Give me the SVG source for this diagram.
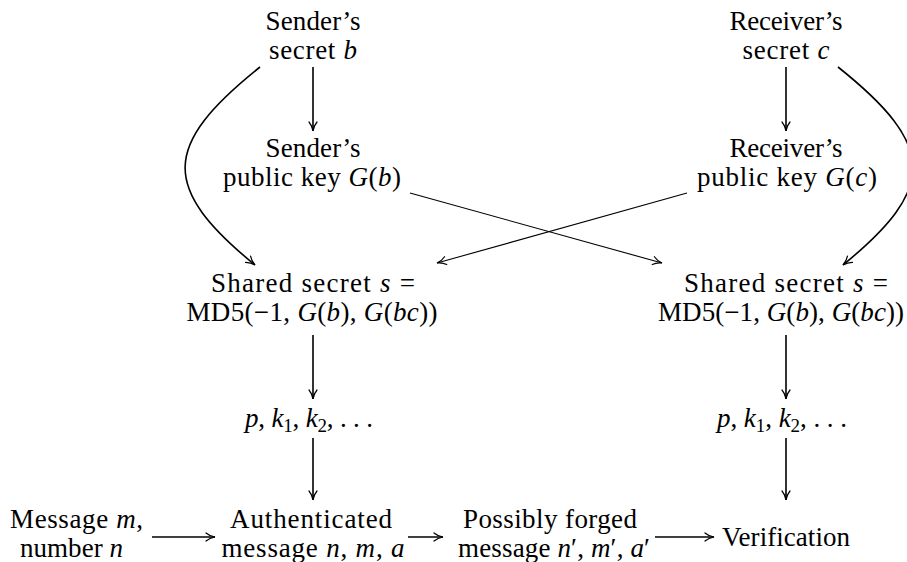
<svg xmlns="http://www.w3.org/2000/svg" width="907" height="562" viewBox="0 0 907 562">
<style>
  text { font-family: "Liberation Serif", "DejaVu Serif", serif; font-size: 27px; fill: #000; text-anchor: middle; }
  .i { font-style: italic; }
  .sub { font-size: 19px; }
  .edge { fill: none; stroke: #000; stroke-width: 1.6; marker-end: url(#to); }
  .thin { stroke-width: 1.1; }
</style>
<defs>
  <marker id="to" markerUnits="userSpaceOnUse" viewBox="-11 -6 12 12" markerWidth="12" markerHeight="12" refX="0" refY="0" orient="auto" overflow="visible">
    <path d="M-9,-4 C-6,-1.4 -2.5,-0.4 0,0 C-2.5,0.4 -6,1.4 -9,4" fill="none" stroke="#000" stroke-width="1.2" stroke-linecap="round"/>
  </marker>
</defs>
<rect width="907" height="562" fill="#fff"/>

<g id="connectors">
  <path class="edge" d="M313,67 V131"/>
  <path class="edge" d="M786,67 V131"/>
  <path class="edge" d="M260,67 C161,146 161,188 255,265"/>
  <path class="edge" d="M838,67 C937,146 937,188 843,265"/>
  <path class="edge thin" d="M410,193 L662,263"/>
  <path class="edge thin" d="M687,193 L437,263"/>
  <path class="edge" d="M313,335 V399"/>
  <path class="edge" d="M786,335 V399"/>
  <path class="edge" d="M313,438 V500"/>
  <path class="edge" d="M786,438 V500"/>
  <path class="edge" d="M152,537 H215"/>
  <path class="edge" d="M408,537 H443"/>
  <path class="edge" d="M655,537 H714"/>
</g>

<g id="sender-secret">
  <text x="313" y="30" textLength="95" lengthAdjust="spacing">Sender’s</text>
  <text x="313" y="59" textLength="88" lengthAdjust="spacing">secret <tspan class="i">b</tspan></text>
</g>
<g id="receiver-secret">
  <text x="786" y="30" textLength="113" lengthAdjust="spacing">Receiver’s</text>
  <text x="786" y="59" textLength="87" lengthAdjust="spacing">secret <tspan class="i">c</tspan></text>
</g>
<g id="sender-public">
  <text x="313" y="157" textLength="95" lengthAdjust="spacing">Sender’s</text>
  <text x="312" y="186" textLength="178" lengthAdjust="spacing">public key <tspan class="i">G</tspan>(<tspan class="i">b</tspan>)</text>
</g>
<g id="receiver-public">
  <text x="786" y="157" textLength="113" lengthAdjust="spacing">Receiver’s</text>
  <text x="787" y="186" textLength="180" lengthAdjust="spacing">public key <tspan class="i">G</tspan>(<tspan class="i">c</tspan>)</text>
</g>
<g id="shared-left">
  <text x="313" y="292" textLength="204" lengthAdjust="spacing">Shared secret <tspan class="i">s</tspan> =</text>
  <text x="312" y="321" textLength="251" lengthAdjust="spacing">MD5(−1, <tspan class="i">G</tspan>(<tspan class="i">b</tspan>), <tspan class="i">G</tspan>(<tspan class="i">bc</tspan>))</text>
</g>
<g id="shared-right">
  <text x="786" y="292" textLength="204" lengthAdjust="spacing">Shared secret <tspan class="i">s</tspan> =</text>
  <text x="781" y="321" textLength="246" lengthAdjust="spacing">MD5(−1, <tspan class="i">G</tspan>(<tspan class="i">b</tspan>), <tspan class="i">G</tspan>(<tspan class="i">bc</tspan>))</text>
</g>
<g id="keys-left">
  <text x="309" y="427" textLength="128" lengthAdjust="spacing"><tspan class="i">p</tspan>, <tspan class="i">k</tspan><tspan class="sub" dy="5">1</tspan><tspan dy="-5">, </tspan><tspan class="i">k</tspan><tspan class="sub" dy="5">2</tspan><tspan dy="-5">, . . .</tspan></text>
</g>
<g id="keys-right">
  <text x="782" y="427" textLength="130" lengthAdjust="spacing"><tspan class="i">p</tspan>, <tspan class="i">k</tspan><tspan class="sub" dy="5">1</tspan><tspan dy="-5">, </tspan><tspan class="i">k</tspan><tspan class="sub" dy="5">2</tspan><tspan dy="-5">, . . .</tspan></text>
</g>
<g id="message">
  <text x="76.5" y="528" textLength="133" lengthAdjust="spacing">Message <tspan class="i">m</tspan>,</text>
  <text x="71.5" y="557" textLength="103" lengthAdjust="spacing">number <tspan class="i">n</tspan></text>
</g>
<g id="authenticated">
  <text x="311" y="528" textLength="162" lengthAdjust="spacing">Authenticated</text>
  <text x="313" y="557" textLength="183" lengthAdjust="spacing">message <tspan class="i">n</tspan>, <tspan class="i">m</tspan>, <tspan class="i">a</tspan></text>
</g>
<g id="forged">
  <text x="550" y="528" textLength="174" lengthAdjust="spacing">Possibly forged</text>
  <text x="554" y="557" textLength="192" lengthAdjust="spacing">message <tspan class="i">n</tspan>′, <tspan class="i">m</tspan>′, <tspan class="i">a</tspan>′</text>
</g>
<g id="verification">
  <text x="786" y="546" textLength="128" lengthAdjust="spacing">Verification</text>
</g>
</svg>
